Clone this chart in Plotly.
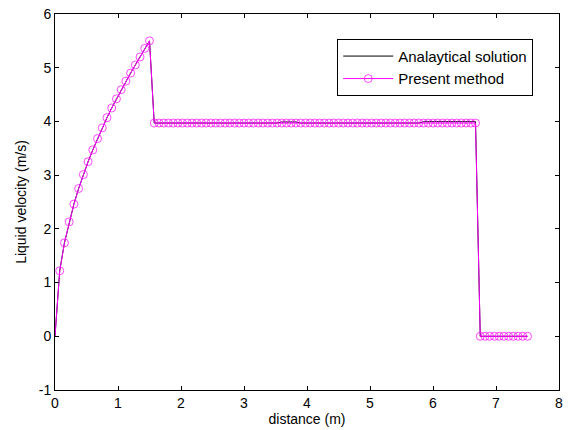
import plotly.graph_objects as go

# Grid spacing of the numerical scheme (m)
dx = 0.075
distance = [round(dx * i, 3) for i in range(101)]

# Present method: rarefaction rise, constant state, then the still region
u_rise = [0.0, 1.22, 1.74, 2.13, 2.46, 2.75, 3.01, 3.25, 3.47, 3.68, 3.88,
          4.07, 4.25, 4.42, 4.59, 4.75, 4.90, 5.05, 5.20, 5.36, 5.50]
u_plateau = [3.97] * 69
u_still = [0.0] * 11
u_present = u_rise + u_plateau + u_still

# Analytical solution on the same stations
u_exact_plateau = ([3.97] * 27 + [3.99] * 4 + [3.97] * 26 + [3.995] * 12)
u_exact = u_rise + u_exact_plateau + u_still

x_ticks = [0, 1, 2, 3, 4, 5, 6, 7, 8]
y_ticks = [-1, 0, 1, 2, 3, 4, 5, 6]
y_tick_text = ["-1", "0", "1", "2", "3", "4", "5", "6"]

marker_sizes = [0] + [8] * (len(distance) - 1)

fig = go.Figure()
fig.add_trace(go.Scatter(
    x=distance, y=u_exact, mode="lines",
    name="Analaytical solution",
    line=dict(color="black", width=1),
))
fig.add_trace(go.Scatter(
    x=distance, y=u_present, mode="lines+markers",
    name="Present method",
    line=dict(color="#FF00FF", width=1),
    marker=dict(symbol="circle-open", size=marker_sizes, color="#FF00FF",
                line=dict(width=1, color="#FF00FF")),
))

axis_common = dict(
    showline=True, linecolor="black", linewidth=1, mirror="ticks",
    ticks="inside", ticklen=4, tickcolor="black", showgrid=False,
    zeroline=False, automargin=False,
    tickfont=dict(family="Liberation Sans, Arial", size=14, color="black"),
)

fig.update_layout(
    width=570, height=430,
    margin=dict(l=55, r=11, t=14, b=40),
    paper_bgcolor="white", plot_bgcolor="white",
    font=dict(family="Liberation Sans, Arial", size=14, color="black"),
    xaxis=dict(range=[0, 8], tickvals=x_ticks,
               title=dict(text="distance (m)", standoff=2,
                          font=dict(size=14)), **axis_common),
    yaxis=dict(range=[-1, 6], tickvals=y_ticks, ticktext=y_tick_text,
               title=dict(text="Liquid velocity (m/s)", standoff=8,
                          font=dict(size=14)), **axis_common),
    legend=dict(x=0.56, y=0.934, xanchor="left", yanchor="top",
                bgcolor="white", bordercolor="black", borderwidth=1,
                font=dict(size=15), tracegroupgap=0, itemwidth=50),
    showlegend=True,
)

fig.write_html("out.html")
